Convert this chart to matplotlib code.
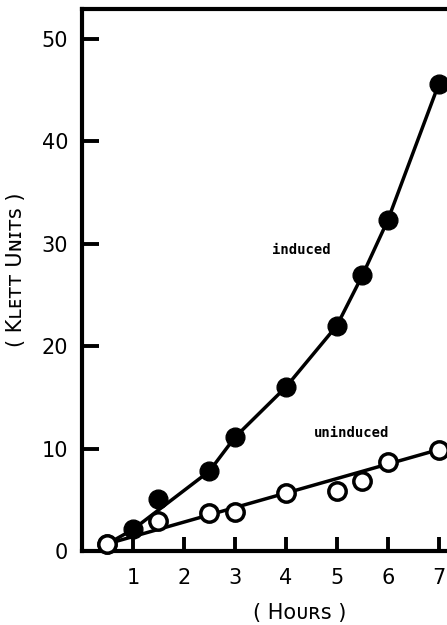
import numpy as np
import matplotlib.pyplot as plt

plt.rcParams['font.family'] = ['DejaVu Sans']

# data
hours = [0.5, 1, 1.5, 2.5, 3, 4, 5, 5.5, 6, 7]
induced = [0.7, 2.1, 5.1, 7.8, 11.1, 16.0, 22.0, 26.9, 32.3, 45.6]
hours_un = [0.5, 1.5, 2.5, 3, 4, 5, 5.5, 6, 7]
uninduced = [0.7, 2.9, 3.7, 3.8, 5.7, 5.9, 6.8, 8.7, 9.9]
xticks = [1, 2, 3, 4, 5, 6, 7]
yticks = [0, 10, 20, 30, 40, 50]

fig = plt.figure(figsize=(4.47, 6.25), dpi=100)
ax = fig.add_axes([82/447, 74/625, 365/447, 542/625])

# induced: curve drawn through the points (the 1.5 h point sits above it)
line_x = [h for h in hours if h != 1.5]
line_y = [v for h, v in zip(hours, induced) if h != 1.5]
ax.plot(line_x, line_y, color='black', lw=2.5, clip_on=False)
ax.plot(hours, induced, 'o', color='black', ms=13.5, clip_on=False, zorder=3)

# uninduced: straight line from first to last point
ax.plot([hours_un[0], hours_un[-1]], [uninduced[0], uninduced[-1]],
        color='black', lw=2.5, clip_on=False)
ax.plot(hours_un, uninduced, 'o', mfc='white', mec='black', mew=2.5, ms=12.5,
        clip_on=False, zorder=3)

ax.text(4.31, 29.4, 'induced', family='DejaVu Sans Mono', weight='bold',
        fontsize=10, ha='center', va='center')
ax.text(5.29, 11.5, 'uninduced', family='DejaVu Sans Mono', weight='bold',
        fontsize=10, ha='center', va='center')

ax.set_xlim(0, 7.16)
ax.set_ylim(0, 52.9)
ax.set_xticks(xticks)
ax.set_yticks(yticks)
ax.tick_params(axis='both', direction='in', width=2.8, labelsize=15)
ax.tick_params(axis='x', length=10, pad=12)
ax.tick_params(axis='y', length=12, pad=10)
ax.yaxis.get_major_ticks()[0].tick1line.set_visible(False)

for s in ['left', 'top', 'bottom']:
    ax.spines[s].set_linewidth(3)
ax.spines['right'].set_visible(False)

fig.text(300/447, 1 - 613/625, '( H\u1d0f\u1d1c\u0280s )', fontsize=15,
         ha='center', va='center')
fig.text(16/447, 1 - 270/625, '( K\u029f\u1d07\u1d1b\u1d1b U\u0274\u026a\u1d1bs )',
         fontsize=15, rotation=90, ha='center', va='center')

fig.savefig('out.png', dpi=100)
